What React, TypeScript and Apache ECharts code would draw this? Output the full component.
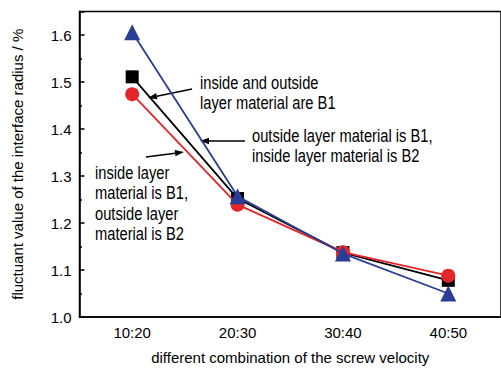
import React, { useEffect, useRef } from "react";
import * as echarts from "echarts";

const categories = ["10:20", "20:30", "30:40", "40:50"];
const seriesB1B1 = [1.511, 1.252, 1.137, 1.078];
const seriesIn1Out2 = [1.474, 1.239, 1.138, 1.088];
const seriesOut1In2 = [1.606, 1.257, 1.135, 1.05];

const FONT = "'Liberation Sans', Arial, Helvetica, sans-serif";

function arrow(x1: number, y1: number, x2: number, y2: number) {
  const dx = x2 - x1, dy = y2 - y1;
  const len = Math.sqrt(dx * dx + dy * dy);
  const ux = dx / len, uy = dy / len;
  const hl = 9, hw = 3.2;
  const bx = x2 - ux * hl, by = y2 - uy * hl;
  return [
    { type: "line", shape: { x1, y1, x2: bx, y2: by }, style: { stroke: "#000", lineWidth: 1.5 } },
    {
      type: "polygon",
      shape: { points: [[x2, y2], [bx - uy * hw, by + ux * hw], [bx + uy * hw, by - ux * hw]] },
      style: { fill: "#000" },
    },
  ];
}

export default function App() {
  const ref = useRef<HTMLDivElement>(null);
  useEffect(() => {
    const chart = echarts.init(ref.current!, null, { renderer: "svg" });
    const note = (t: string, x: number, y: number) => ({
      type: "text",
      x,
      y,
      scaleX: 0.84,
      style: { text: t, font: `17.5px ${FONT}`, fill: "#000", lineHeight: 20.5, verticalAlign: "top" },
    });
    chart.setOption({
      animation: false,
      textStyle: { fontFamily: FONT },
      grid: { left: 79.5, top: 11.5, width: 422.5, bottom: 47.5, show: true, borderColor: "#000", borderWidth: 1.5 },
      xAxis: {
        type: "category",
        data: categories,
        boundaryGap: true,
        name: "different combination of the screw velocity",
        nameLocation: "middle",
        nameGap: 33,
        nameTextStyle: { fontSize: 15, color: "#000", fontFamily: FONT },
        axisLine: { lineStyle: { color: "#000", width: 1.5 } },
        axisTick: { inside: true, alignWithLabel: true, length: 5, lineStyle: { color: "#000", width: 1.5 } },
        axisLabel: { fontSize: 15, color: "#000", margin: 8, fontFamily: FONT },
      },
      yAxis: {
        type: "value",
        min: 1.0,
        max: 1.65,
        interval: 0.1,
        name: "fluctuant value of the interface radius / %",
        nameLocation: "middle",
        nameGap: 55,
        nameTextStyle: { fontSize: 15, color: "#000", fontFamily: FONT },
        axisLine: { show: true, lineStyle: { color: "#000", width: 1.5 } },
        axisTick: { show: true, inside: true, length: 5, lineStyle: { color: "#000", width: 1.5 } },
        minorTick: { show: true, splitNumber: 2, length: 2.5, lineStyle: { color: "#000", width: 1.5 } },
        splitLine: { show: false },
        axisLabel: {
          fontSize: 15,
          color: "#000",
          margin: 8,
          fontFamily: FONT,
          showMaxLabel: false,
          formatter: (v: number) => v.toFixed(1),
        },
      },
      series: [
        {
          type: "line",
          data: seriesB1B1,
          symbol: "rect",
          symbolSize: 13,
          itemStyle: { color: "#000" },
          lineStyle: { color: "#000", width: 1.8 },
          z: 2,
        },
        {
          type: "line",
          data: seriesIn1Out2,
          symbol: "circle",
          symbolSize: 14,
          itemStyle: { color: "#e52629" },
          lineStyle: { color: "#e52629", width: 1.8 },
          z: 3,
        },
        {
          type: "line",
          data: seriesOut1In2,
          symbol: "triangle",
          symbolSize: 16,
          itemStyle: { color: "#2b3d96" },
          lineStyle: { color: "#2b3d96", width: 1.8 },
          z: 4,
        },
      ],
      graphic: [
        note("inside and outside\nlayer material are B1", 200, 72),
        note("outside layer material is B1,\ninside layer material is B2", 252, 125),
        note("inside layer\nmaterial is B1,\noutside layer\nmaterial is B2", 95, 162),
        ...arrow(192, 89, 148, 98),
        ...arrow(245, 141, 200, 141),
        ...arrow(146, 157, 184, 152),
      ],
    });
    return () => chart.dispose();
  }, []);
  return <div ref={ref} style={{ position: "fixed", left: 0, top: 0, width: 501, height: 370, background: "#fff" }} />;
}
